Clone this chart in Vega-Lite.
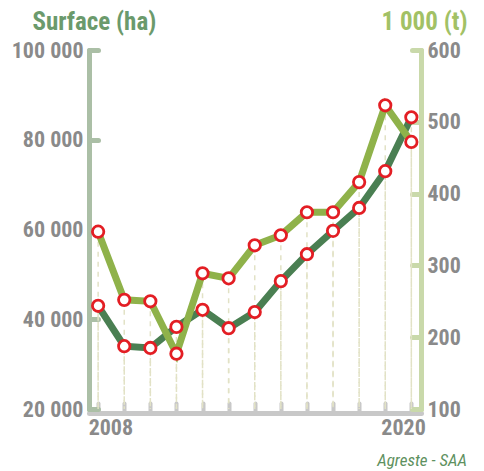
{
  "$schema": "https://vega.github.io/schema/vega-lite/v6.json",
  "width": 332,
  "height": 359,
  "autosize": {"type": "none"},
  "padding": {"left": 89, "top": 50, "right": 63, "bottom": 62},
  "background": "white",
  "title": {
    "text": "Agreste - SAA",
    "orient": "bottom",
    "anchor": "end",
    "frame": "group",
    "font": "Liberation Sans Narrow, Roboto Condensed, DejaVu Sans Condensed, sans-serif",
    "fontStyle": "italic",
    "fontWeight": "normal",
    "fontSize": 17,
    "color": "#5e9160",
    "dx": 46,
    "offset": 15
  },
  "data": {
    "values": [
      {"year": 2008, "surface": 43000, "production": 347},
      {"year": 2009, "surface": 34000, "production": 252},
      {"year": 2010, "surface": 33600, "production": 250},
      {"year": 2011, "surface": 38300, "production": 177},
      {"year": 2012, "surface": 42100, "production": 289},
      {"year": 2013, "surface": 38000, "production": 282},
      {"year": 2014, "surface": 41600, "production": 328},
      {"year": 2015, "surface": 48500, "production": 342},
      {"year": 2016, "surface": 54500, "production": 374},
      {"year": 2017, "surface": 59700, "production": 374},
      {"year": 2018, "surface": 64800, "production": 416},
      {"year": 2019, "surface": 73000, "production": 523},
      {"year": 2020, "surface": 85000, "production": 472}
    ]
  },
  "encoding": {
    "x": {
      "field": "year",
      "type": "quantitative",
      "scale": {"domain": [2007.65, 2020.37], "nice": false, "zero": false},
      "axis": {
        "title": null,
        "values": [2008, 2009, 2010, 2011, 2012, 2013, 2014, 2015, 2016, 2017, 2018, 2019, 2020],
        "labelExpr": "datum.value == 2008 || datum.value == 2020 ? '' + datum.value : ''",
        "labelOverlap": false,
        "labelAlign": {"condition": {"test": "datum.value == 2008", "value": "left"}, "value": "right"},
        "labelOffset": {"condition": {"test": "datum.value == 2008", "value": -10}, "value": 14},
        "labelFlush": false,
        "offset": 4,
        "domainColor": "#c8c8c8",
        "domainWidth": 5,
        "domainCap": "round",
        "tickColor": "#c8c8c8",
        "tickWidth": 4,
        "tickSize": -10,
        "tickCap": "round",
        "labelPadding": 14,
        "labelBaseline": "top",
        "grid": false
      }
    }
  },
  "layer": [
    {
      "mark": {"type": "rule", "color": "#e2e2c6", "strokeWidth": 1.5, "strokeDash": [5, 5]},
      "encoding": {
        "y": {"field": "surface", "type": "quantitative", "scale": {"domain": [20000, 100000], "nice": false, "zero": false}, "axis": null},
        "y2": {"datum": 20000}
      }
    },
    {
      "mark": {"type": "rule", "color": "#e2e2c6", "strokeWidth": 1.5, "strokeDash": [5, 5]},
      "encoding": {
        "y": {"field": "production", "type": "quantitative", "scale": {"domain": [100, 600], "nice": false, "zero": false}, "axis": null},
        "y2": {"datum": 100}
      }
    },
    {
      "mark": {"type": "line", "color": "#4a7f52", "strokeWidth": 7, "strokeJoin": "miter", "strokeCap": "butt"},
      "encoding": {
        "y": {
          "field": "surface",
          "type": "quantitative",
          "scale": {"domain": [20000, 100000], "nice": false, "zero": false},
          "axis": {
            "orient": "left",
            "values": [20000, 40000, 60000, 80000, 100000],
            "format": ",d",
            "labelExpr": "replace(datum.label, ',', ' ')",
            "title": "Surface (ha)",
            "titleAngle": 0,
            "titleAlign": "left",
            "titleBaseline": "alphabetic",
            "titleX": -57,
            "titleY": -21,
            "titleColor": "#6b9a6c",
            "titleFontSize": 25,
            "titleFontWeight": "bold",
            "domainColor": "#abbfa6",
            "domainWidth": 5,
            "domainCap": "round",
            "tickColor": "#abbfa6",
            "tickWidth": 5,
            "tickSize": -9,
            "tickCap": "round",
            "labelPadding": 15,
            "grid": false
          }
        }
      }
    },
    {
      "mark": {"type": "line", "color": "#8fb24a", "strokeWidth": 7, "strokeJoin": "miter", "strokeCap": "butt"},
      "encoding": {
        "y": {
          "field": "production",
          "type": "quantitative",
          "scale": {"domain": [100, 600], "nice": false, "zero": false},
          "axis": {
            "orient": "right",
            "values": [100, 200, 300, 400, 500, 600],
            "title": "1 000 (t)",
            "titleAngle": 0,
            "titleAlign": "right",
            "titleBaseline": "alphabetic",
            "titleX": 46,
            "titleY": -21,
            "titleColor": "#a2c165",
            "titleFontSize": 25,
            "titleFontWeight": "bold",
            "domainColor": "#c9d9aa",
            "domainWidth": 5,
            "domainCap": "round",
            "tickColor": "#c9d9aa",
            "tickWidth": 5,
            "tickSize": -9,
            "tickCap": "round",
            "labelPadding": 15,
            "grid": false
          }
        }
      }
    },
    {
      "mark": {"type": "point", "filled": true, "fill": "white", "stroke": "#e31e24", "strokeWidth": 2.8, "size": 130, "opacity": 1},
      "encoding": {
        "y": {"field": "surface", "type": "quantitative", "scale": {"domain": [20000, 100000], "nice": false, "zero": false}, "axis": null}
      }
    },
    {
      "mark": {"type": "point", "filled": true, "fill": "white", "stroke": "#e31e24", "strokeWidth": 2.8, "size": 130, "opacity": 1},
      "encoding": {
        "y": {"field": "production", "type": "quantitative", "scale": {"domain": [100, 600], "nice": false, "zero": false}, "axis": null}
      }
    }
  ],
  "resolve": {"scale": {"y": "independent"}, "axis": {"y": "independent"}},
  "config": {
    "view": {"stroke": null},
    "font": "Liberation Sans Narrow, Roboto Condensed, DejaVu Sans Condensed, sans-serif",
    "axis": {
      "labelFont": "Liberation Sans Narrow, Roboto Condensed, DejaVu Sans Condensed, sans-serif",
      "labelFontSize": 22,
      "labelFontWeight": "bold",
      "labelColor": "#8a8a8a",
      "titleFont": "Liberation Sans Narrow, Roboto Condensed, DejaVu Sans Condensed, sans-serif"
    }
  }
}
